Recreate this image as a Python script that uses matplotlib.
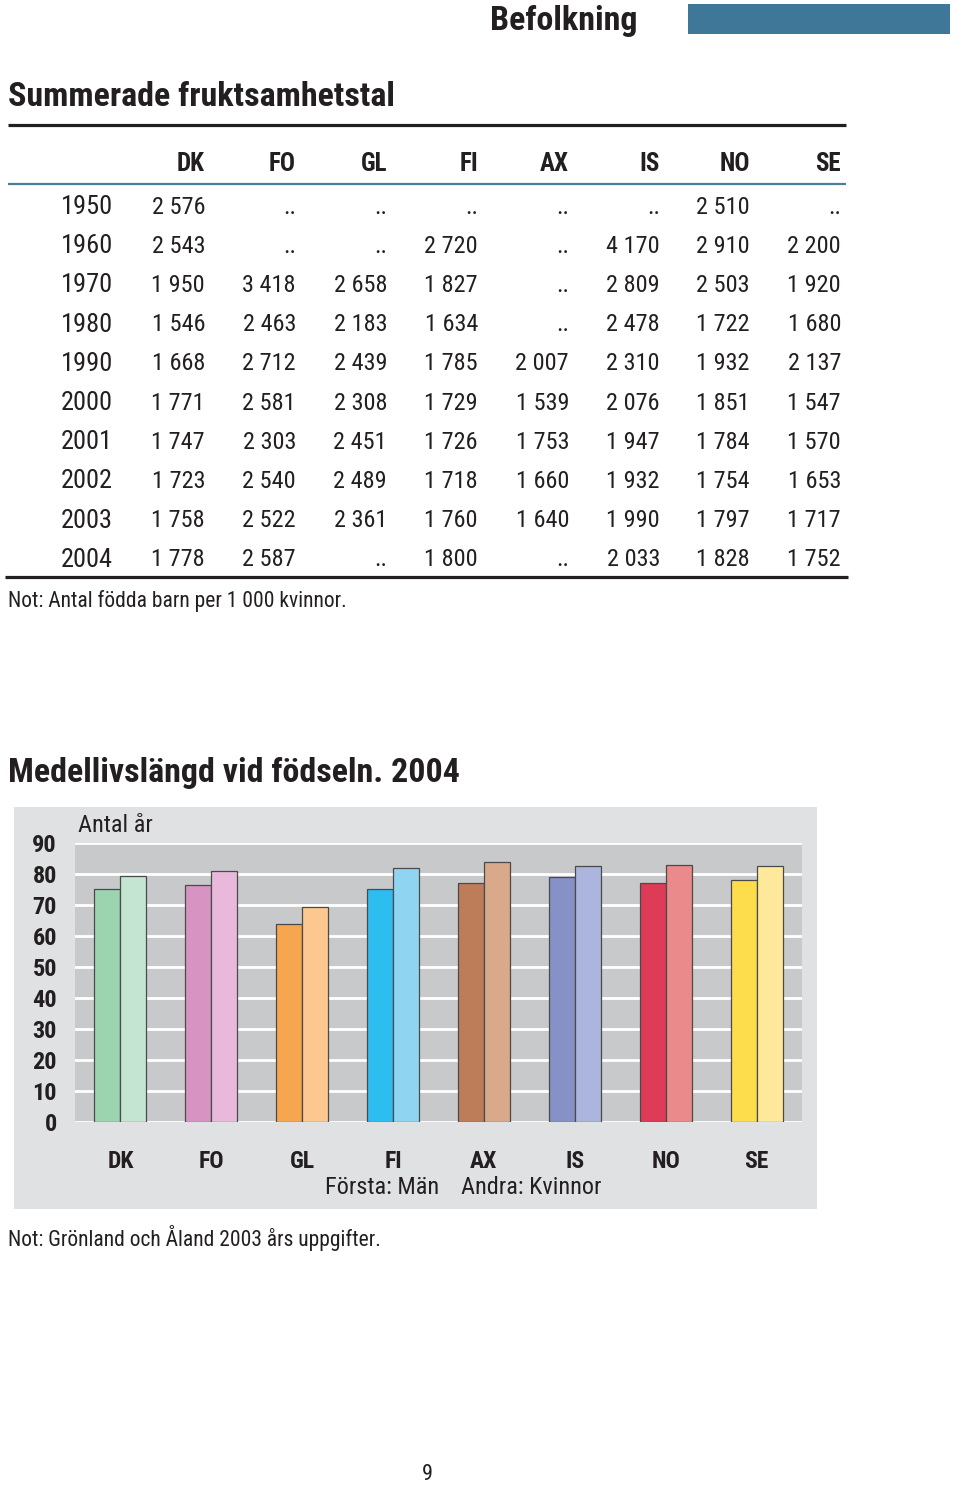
import matplotlib
matplotlib.use("Agg")
import matplotlib.pyplot as plt
import matplotlib.font_manager as fm
from matplotlib.patches import Rectangle

# pick a narrow humanist-ish font if one is installed
names = {f.name for f in fm.fontManager.ttflist}
stretches = {(f.name, f.stretch) for f in fm.fontManager.ttflist}
FAM = "DejaVu Sans"
STRETCH = "normal"
for cand in ["Roboto Condensed", "Liberation Sans Narrow", "Open Sans Condensed"]:
    if cand in names:
        FAM = cand
        break
else:
    if ("DejaVu Sans", "condensed") in stretches or ("DejaVu Sans", "semi-condensed") in stretches:
        FAM = "DejaVu Sans"
        STRETCH = "condensed"
plt.rcParams["font.family"] = [FAM, "DejaVu Sans"]
plt.rcParams["font.stretch"] = STRETCH

# ---- data: Summerade fruktsamhetstal ----
countries = ["DK", "FO", "GL", "FI", "AX", "IS", "NO", "SE"]
years = ["1950", "1960", "1970", "1980", "1990", "2000", "2001", "2002", "2003", "2004"]
tfr_dk = [2576, 2543, 1950, 1546, 1668, 1771, 1747, 1723, 1758, 1778]
tfr_fo = [None, None, 3418, 2463, 2712, 2581, 2303, 2540, 2522, 2587]
tfr_gl = [None, None, 2658, 2183, 2439, 2308, 2451, 2489, 2361, None]
tfr_fi = [None, 2720, 1827, 1634, 1785, 1729, 1726, 1718, 1760, 1800]
tfr_ax = [None, None, None, None, 2007, 1539, 1753, 1660, 1640, None]
tfr_is = [None, 4170, 2809, 2478, 2310, 2076, 1947, 1932, 1990, 2033]
tfr_no = [2510, 2910, 2503, 1722, 1932, 1851, 1784, 1754, 1797, 1828]
tfr_se = [None, 2200, 1920, 1680, 2137, 1547, 1570, 1653, 1717, 1752]
tfr = [tfr_dk, tfr_fo, tfr_gl, tfr_fi, tfr_ax, tfr_is, tfr_no, tfr_se]

# ---- data: Medellivslängd vid födseln 2004 ----
life_men = [75.2, 76.6, 63.9, 75.2, 77.1, 79.1, 77.1, 78.1]
life_women = [79.5, 81.0, 69.3, 81.9, 84.0, 82.6, 82.9, 82.6]
men_colors = ["#9dd4b0", "#d794c3", "#f6a64f", "#2dbdee", "#bd7d58", "#8591c7", "#de3b56", "#fedd4c"]
women_colors = ["#c3e5d1", "#e8b9da", "#fcc890", "#8fd5f2", "#d8a98b", "#abb5de", "#ea8a8a", "#fee99b"]

W, H = 960, 1486
fig = plt.figure(figsize=(W / 100, H / 100), dpi=100)
page = fig.add_axes([0, 0, 1, 1])
page.set_xlim(0, W)
page.set_ylim(H, 0)
page.axis("off")

DARK = "#231f20"

# header
page.text(637, 21, "Befolkning", ha="right", va="center", fontsize=24.5, fontweight="bold", color=DARK)
page.add_patch(Rectangle((688, 4), 262, 30, color="#3f7799", lw=0))

# table
page.text(8, 97, "Summerade fruktsamhetstal", ha="left", va="center", fontsize=24.5,
          fontweight="bold", color=DARK)
page.plot([8, 846], [125, 125], color=DARK, lw=2.3, solid_capstyle="butt")
col_right = [205, 296, 387, 478, 569, 660, 750, 841]
for c, x in zip(countries, col_right):
    page.text(x, 164, c, ha="right", va="center", fontsize=18, fontweight="bold", color=DARK)
page.plot([8, 846], [184, 184], color="#4e7d99", lw=1.6, solid_capstyle="butt")

row_y0, row_dy = 207, 39.2
for i, yr in enumerate(years):
    y = row_y0 + i * row_dy
    page.text(113, y, yr, ha="right", va="center", fontsize=19, color=DARK)
    for j, x in enumerate(col_right):
        v = tfr[j][i]
        s = ".." if v is None else f"{v:,}".replace(",", " ")
        page.text(x, y, s, ha="right", va="center", fontsize=17.5, color=DARK)
page.plot([5, 848], [577, 577], color=DARK, lw=2.3, solid_capstyle="butt")
page.text(8, 601, "Not: Antal födda barn per 1 000 kvinnor.", ha="left", va="center",
          fontsize=15.5, color=DARK)

# chart title and panel
page.text(8, 773, "Medellivslängd vid födseln. 2004", ha="left", va="center", fontsize=24.5,
          fontweight="bold", color=DARK)
page.add_patch(Rectangle((14, 807), 803, 402, color="#e0e1e3", lw=0))
page.text(78, 826, "Antal år", ha="left", va="center", fontsize=17.5, color=DARK)
page.text(382, 1188, "Första: Män", ha="center", va="center", fontsize=17.5, color=DARK)
page.text(531, 1188, "Andra: Kvinnor", ha="center", va="center", fontsize=17.5, color=DARK)
page.text(8, 1238, "Not: Grönland och Åland 2003 års uppgifter.", ha="left", va="center",
          fontsize=15.5, color=DARK)
page.text(427, 1474, "9", ha="center", va="center", fontsize=16, color=DARK)

# bar chart
left, right, top, bottom = 75, 802, 843, 1122
ax = fig.add_axes([left / W, 1 - bottom / H, (right - left) / W, (bottom - top) / H])
ax.set_facecolor("#c8c9cb")
ax.set_xlim(-0.5, 7.5)
ax.set_ylim(0, 90)
ax.set_yticks(range(0, 91, 10))
ax.yaxis.grid(True, color="white", lw=2)
ax.set_axisbelow(True)
for s in ax.spines.values():
    s.set_visible(False)
ax.tick_params(axis="y", length=0, pad=13, labelsize=17.5, labelcolor=DARK)
ax.tick_params(axis="x", length=0, pad=20, labelsize=17, labelcolor=DARK)
for lab in ax.get_yticklabels():
    lab.set_fontweight("bold")

xs = list(range(len(countries)))
bw = 0.286
ax.bar([x - bw / 2 for x in xs], life_men, width=bw, color=men_colors, edgecolor="#4a4a4a", lw=0.9, zorder=3)
ax.bar([x + bw / 2 for x in xs], life_women, width=bw, color=women_colors, edgecolor="#4a4a4a", lw=0.9, zorder=3)
ax.set_xticks(xs)
ax.set_xticklabels(countries, fontweight="bold")

fig.savefig("out.png", dpi=100)
